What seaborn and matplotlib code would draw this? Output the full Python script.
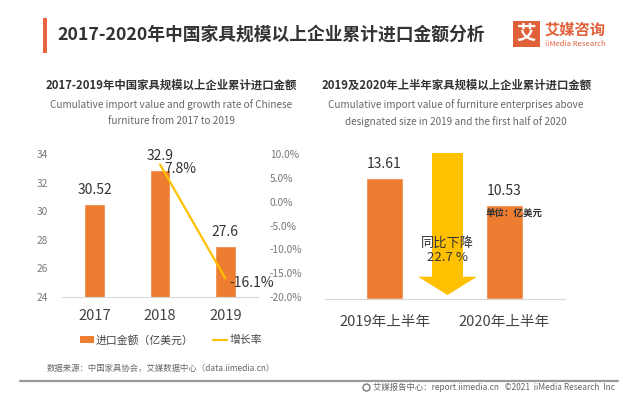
import matplotlib.pyplot as plt
import numpy as np
import seaborn as sns
from matplotlib.lines import Line2D
from matplotlib.patches import Patch, Rectangle, FancyArrow

# data
years = ['2017', '2018', '2019']
import_value = [30.52, 32.9, 27.6]
growth_rate = [np.nan, 7.8, -16.1]
growth_labels = ['', '7.8%', '-16.1%']
left_yticks = [24, 26, 28, 30, 32, 34]
right_yticks = [10, 5, 0, -5, -10, -15, -20]

halves = ['2019年上半年', '2020年上半年']
half_value = [13.61, 10.53]
decline_text = '同比下降\n22.7 %'

ORANGE = '#ED7D31'
GOLD = '#FFC000'
DARK = '#333333'
GRAY = '#777777'

sns.set_style('white')
plt.rcParams['font.family'] = ['Noto Sans CJK SC', 'DejaVu Sans']

fig = plt.figure(figsize=(6.4, 4.05), dpi=100)

# header
fig.add_artist(Rectangle((43 / 640, 1 - 53 / 405), 4 / 640, 35 / 405,
                         transform=fig.transFigure, color='#E8643C', lw=0))
fig.text(57 / 640, 1 - 35 / 405, '2017-2020年中国家具规模以上企业累计进口金额分析',
         fontsize=12.8, fontweight='bold', color=DARK, va='center')
fig.add_artist(Rectangle((513 / 640, 1 - 47 / 405), 27 / 640, 26 / 405,
                         transform=fig.transFigure, color='#E0603A', lw=0))
fig.text(526.5 / 640, 1 - 34 / 405, '艾', fontsize=14, fontweight='bold',
         color='white', ha='center', va='center')
fig.text(545 / 640, 1 - 30 / 405, '艾媒咨询', fontsize=11, fontweight='bold',
         color='#E0603A', va='center')
fig.text(545 / 640, 1 - 43.5 / 405, 'iiMedia Research', fontsize=5.5,
         color='#E0603A', va='center')

# subtitles
fig.text(171 / 640, 1 - 85 / 405, '2017-2019年中国家具规模以上企业累计进口金额',
         fontsize=8.2, fontweight='bold', color=DARK, ha='center', va='center')
fig.text(171 / 640, 1 - 113 / 405,
         'Cumulative import value and growth rate of Chinese\nfurniture from 2017 to 2019',
         fontsize=7.2, color='#666666', ha='center', va='center', linespacing=1.75)
fig.text(457 / 640, 1 - 85 / 405, '2019及2020年上半年家具规模以上企业累计进口金额',
         fontsize=8.2, fontweight='bold', color=DARK, ha='center', va='center')
fig.text(456 / 640, 1 - 113 / 405,
         'Cumulative import value of furniture enterprises above\ndesignated size in 2019 and the first half of 2020',
         fontsize=7.2, color='#666666', ha='center', va='center', linespacing=1.75)

# left chart: bars + growth line
ax = fig.add_axes([62 / 640, 1 - 297 / 405, 196 / 640, 143 / 405])
sns.barplot(x=years, y=import_value, color=ORANGE, width=0.32, saturation=1, ax=ax)
ax.set_ylim(24, 34)
ax.set_yticks(left_yticks)
ax.set_xlim(-0.5, 2.5)
ax.set_xlabel('')
ax.set_ylabel('')
for i, v in enumerate(import_value):
    ax.annotate(f'{v:g}', (i, v), xytext=(0, 10), textcoords='offset points',
                ha='center', va='center', fontsize=10, color=DARK)
ax.tick_params(axis='y', length=0, pad=10, labelsize=7.3, labelcolor=GRAY)
ax.tick_params(axis='x', length=0, pad=9, labelsize=10.5, labelcolor='#444444')
for s in ['top', 'left', 'right']:
    ax.spines[s].set_visible(False)
ax.spines['bottom'].set_color('#D9D9D9')

ax2 = ax.twinx()
sns.lineplot(x=np.arange(len(years)), y=growth_rate, color=GOLD, lw=1.6, ax=ax2)
ax2.set_ylim(-20, 10)
ax2.set_yticks(right_yticks)
ax2.set_yticklabels([f'{t:.1f}%' for t in right_yticks])
ax2.tick_params(axis='y', length=0, pad=8.5, labelsize=7.3, labelcolor=GRAY)
for s in ax2.spines.values():
    s.set_visible(False)
for i, (g, lab) in enumerate(zip(growth_rate, growth_labels)):
    if lab:
        ax2.annotate(lab, (i, g), xytext=(3, -3), textcoords='offset points',
                     ha='left', va='center', fontsize=10, color=DARK)

# legend for the left chart
handles = [Patch(facecolor=ORANGE, edgecolor='none'),
           Line2D([0], [0], color=GOLD, lw=1.5)]
fig.legend(handles, ['进口金额（亿美元）', '增长率'], loc='center',
           bbox_to_anchor=(171 / 640, 1 - 340 / 405), ncol=2, frameon=False,
           fontsize=7.8, handlelength=1.3, handleheight=0.5, handletextpad=0.2,
           columnspacing=1.8, labelcolor='#444444')

# right chart: half-year bars + decline arrow
bx = fig.add_axes([324.5 / 640, 1 - 299.3 / 405, 240 / 640, 146.3 / 405])
sns.barplot(x=halves, y=half_value, color=ORANGE, width=0.31, saturation=1, ax=bx)
top = 16.4
bx.set_ylim(0, top)
bx.set_xlim(-0.5, 1.5)
bx.set_yticks([])
bx.set_xlabel('')
bx.set_ylabel('')
for i, v in enumerate(half_value):
    bx.annotate(f'{v:.2f}', (i, v), xytext=(0, 10), textcoords='offset points',
                ha='center', va='center', fontsize=10, color=DARK)
bx.annotate('单位：亿美元', (1, half_value[1]), xytext=(-18.5 / 1.39, -5),
            textcoords='offset points', ha='left', va='center', fontsize=6.8,
            fontweight='bold', color=DARK)
bx.tick_params(axis='x', length=0, pad=11, labelsize=10.5, labelcolor='#444444')
for s in ['top', 'left', 'right']:
    bx.spines[s].set_visible(False)
bx.spines['bottom'].set_color('#D9D9D9')

arrow_x = 0.525
tip = 0.48
bx.add_patch(FancyArrow(arrow_x, top, 0, -(top - tip), width=0.258,
                        head_width=0.49, head_length=2.05,
                        length_includes_head=True, color=GOLD, lw=0, clip_on=False))
bx.text(arrow_x, top / 3, decline_text, ha='center', va='center',
        fontsize=9.5, color=DARK, linespacing=1.1)

# footer
fig.text(47 / 640, 1 - 368 / 405, '数据来源：中国家具协会，艾媒数据中心（data.iimedia.cn）',
         fontsize=6, color='#666666', va='center')
fig.add_artist(Line2D([20 / 640, 618 / 640], [1 - 381 / 405, 1 - 381 / 405],
                      transform=fig.transFigure, color='#9A9A9A', lw=1.6))
fig.add_artist(Line2D([366 / 640], [1 - 387 / 405], transform=fig.transFigure,
                      marker='o', markersize=5, markerfacecolor='none',
                      markeredgecolor='#777777', lw=0))
fig.text(373 / 640, 1 - 387 / 405,
         '艾媒报告中心：report.iimedia.cn   ©2021  iiMedia Research  Inc',
         fontsize=6, color='#666666', va='center')

fig.savefig('out.png', dpi=100)
